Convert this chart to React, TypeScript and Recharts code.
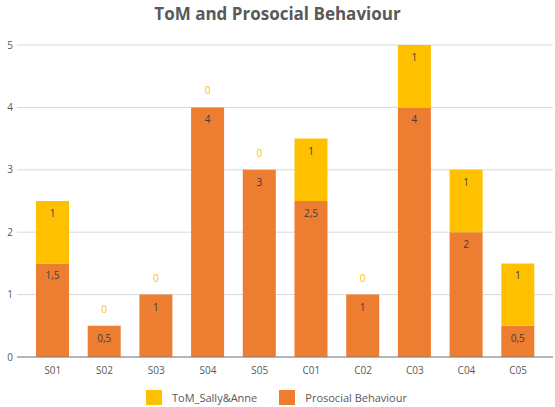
import React from 'react';
import { BarChart, Bar, XAxis, YAxis, CartesianGrid, Legend, LabelList } from 'recharts';

const categories = ['S01', 'S02', 'S03', 'S04', 'S05', 'C01', 'C02', 'C03', 'C04', 'C05'];
const prosocial = [1.5, 0.5, 1, 4, 3, 2.5, 1, 4, 2, 0.5];
const tom = [1, 0, 0, 0, 0, 1, 0, 1, 1, 1];
const yTicks = [0, 1, 2, 3, 4, 5];

const ORANGE = '#ED7D31';
const YELLOW = '#FFC000';
const FONT = '"Open Sans", "Noto Sans", sans-serif';

const data = categories.map((name, i) => ({
  name,
  prosocial: prosocial[i],
  tom: tom[i],
}));

const fmt = (v: number) => String(v).replace('.', ',');

// label inside the top of a segment
const SegmentLabel = (props: any) => {
  const { x, y, width, value } = props;
  if (value === undefined || value === null || value === 0) return null;
  return (
    <text x={Number(x) + Number(width) / 2} y={Number(y) + 12} textAnchor="middle" dominantBaseline="central"
      fontSize={10} fontFamily={FONT} fill="#404040">
      {fmt(value)}
    </text>
  );
};

// zero ToM values: drawn above the orange bar, in yellow
const ZeroLabel = (props: any) => {
  const { x, y, width, value } = props;
  if (value !== 0) return null;
  return (
    <text x={Number(x) + Number(width) / 2} y={Number(y) - 17} textAnchor="middle" dominantBaseline="central"
      fontSize={10} fontFamily={FONT} fill={YELLOW}>
      {fmt(value)}
    </text>
  );
};

const legendItems = [
  { label: 'ToM_Sally&Anne', color: YELLOW },
  { label: 'Prosocial Behaviour', color: ORANGE },
];

const ChartLegend = () => (
  <div style={{ height: 28, display: 'flex', justifyContent: 'center', alignItems: 'flex-start', paddingTop: 11, boxSizing: 'border-box', fontFamily: FONT, fontSize: 11, color: '#595959' }}>
    {legendItems.map((it, i) => (
      <div key={it.label} style={{ display: 'flex', alignItems: 'center', marginLeft: i > 0 ? 22 : 0 }}>
        <div style={{ width: 16, height: 15, background: it.color, marginRight: 10 }} />
        <span>{it.label}</span>
      </div>
    ))}
  </div>
);

export default function App() {
  return (
    <div style={{ position: 'absolute', left: 0, top: 0, width: 555, height: 407, background: '#fff' }}>
      <div style={{ position: 'absolute', left: 0, top: 2, width: 555, textAlign: 'center', fontFamily: FONT, fontWeight: 700, fontSize: 17, color: '#595959' }}>
        ToM and Prosocial Behaviour
      </div>
      <BarChart width={555} height={407} data={data} margin={{ top: 45, right: 2, bottom: 0, left: 0 }} barSize={33}>
        <CartesianGrid vertical={false} stroke="#D9D9D9" />
        <XAxis dataKey="name" height={22} tickLine={false} tickSize={0} tickMargin={10}
          axisLine={{ stroke: '#808080' }} padding={{ left: 10, right: 9 }}
          tick={{ fontSize: 10, fill: '#595959', fontFamily: FONT }} />
        <YAxis width={17} domain={[0, 5]} ticks={yTicks} axisLine={false} tickLine={false}
          tickSize={0} tickMargin={4} tick={{ fontSize: 10, fill: '#595959', fontFamily: FONT }} />
        <Legend verticalAlign="bottom" height={28} content={<ChartLegend />} />
        <Bar dataKey="prosocial" name="Prosocial Behaviour" stackId="a" fill={ORANGE} isAnimationActive={false}>
          <LabelList dataKey="prosocial" content={SegmentLabel} />
          <LabelList dataKey="tom" content={ZeroLabel} />
        </Bar>
        <Bar dataKey="tom" name="ToM_Sally&Anne" stackId="a" fill={YELLOW} isAnimationActive={false}>
          <LabelList dataKey="tom" content={SegmentLabel} />
        </Bar>
      </BarChart>
    </div>
  );
}
